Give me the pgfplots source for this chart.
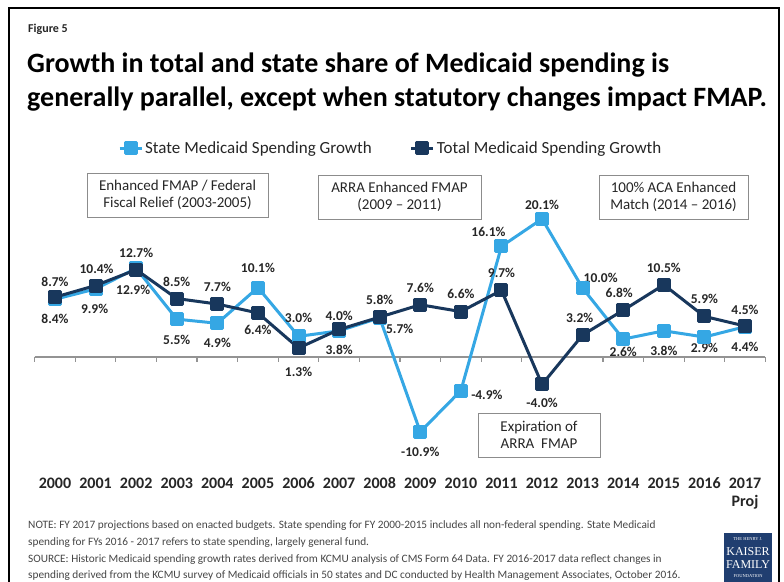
\documentclass[border=0pt]{standalone}
\usepackage{fontspec}
\setmainfont{Carlito}
\newfontfamily\logofont{Liberation Serif}
\usepackage{pgfplots}
\pgfplotsset{compat=1.18}
\definecolor{lightb}{RGB}{53,167,228}
\definecolor{darkb}{RGB}{24,55,92}
\definecolor{txt}{RGB}{38,38,38}
\definecolor{foot}{RGB}{70,70,70}
\definecolor{boxgray}{RGB}{140,140,140}
\definecolor{kff}{RGB}{32,62,112}
\tikzset{lab/.style={font=\fontsize{13.5}{16}\selectfont\bfseries, text=txt, inner sep=0, anchor=center}}

\begin{document}
\begin{tikzpicture}
\path[use as bounding box] (0,0) rectangle (784pt,581pt);
\fill[white] (0,0) rectangle (784pt,581pt);
\begin{scope}[x=1pt,y=-1pt,yshift=581pt]
% frame
\draw[line width=2.5pt] (9,583) -- (9,8) -- (779,8) -- (779,583);
% title
\node[anchor=base west, inner sep=0, text=txt, font=\fontsize{12}{14}\selectfont\bfseries] at (28,33) {Figure 5};
\node[anchor=base west, inner sep=0, text=black, font=\fontsize{28}{32}\selectfont\bfseries] at (27,73) {Growth in total and state share of Medicaid spending is};
\node[anchor=base west, inner sep=0, text=black, font=\fontsize{28}{32}\selectfont\bfseries] at (27,107) {generally parallel, except when statutory changes impact FMAP.};
% zero line and ticks
\draw[gray!85, line width=1.5pt] (34.7,357) -- (765.3,357);
\foreach \i in {0,...,18} \draw[gray!85, line width=1.2pt] ({34.7+\i*40.588},357) -- ++(0,5);
% annotation boxes
\draw[boxgray, line width=0.8pt] (87,173) rectangle (268,217);
\node[align=center, text=txt, font=\fontsize{15}{17.5}\selectfont] at (177.5,195) {Enhanced FMAP / Federal\\Fiscal Relief (2003-2005)};
\draw[boxgray, line width=0.8pt] (318,175) rectangle (481,219);
\node[align=center, text=txt, font=\fontsize{15}{17.5}\selectfont] at (399.5,197) {ARRA Enhanced FMAP\\(2009 -- 2011)};
\draw[boxgray, line width=0.8pt] (599,175) rectangle (748,219);
\node[align=center, text=txt, font=\fontsize{15}{17.5}\selectfont] at (673.5,197) {100\% ACA Enhanced\\Match (2014 -- 2016)};
\draw[boxgray, line width=0.8pt] (478,413) rectangle (600,457);
\node[align=center, text=txt, font=\fontsize{15}{17.5}\selectfont] at (539,435) {Expiration of\\ARRA\ \ FMAP};
% footnote
\begin{scope}[every node/.style={anchor=base west, inner sep=0, text=foot, font=\fontsize{11.3}{13}\selectfont}]
\node at (28,528) {NOTE: FY 2017 projections based on enacted budgets. State spending for FY 2000-2015 includes all non-federal spending. State Medicaid};
\node at (28,545) {spending for FYs 2016 - 2017 refers to state spending, largely general fund.};
\node at (28,562) {SOURCE: Historic Medicaid spending growth rates derived from KCMU analysis of CMS Form 64 Data. FY 2016-2017 data reflect changes in};
\node at (28,578) {spending derived from the KCMU survey of Medicaid officials in 50 states and DC conducted by Health Management Associates, October 2016.};
\end{scope}
% logo
\fill[kff] (724,533) rectangle (772,583);
\node[text=white, font=\logofont\fontsize{4.5}{5}\selectfont, inner sep=0] at (748,539) {THE HENRY J.};
\node[text=white, font=\logofont\fontsize{12}{12}\selectfont, inner sep=0] at (748,551.5) {KAISER};
\node[text=white, font=\logofont\fontsize{12}{12}\selectfont, inner sep=0] at (748,564.5) {FAMILY};
\node[text=white, font=\logofont\fontsize{4.5}{5}\selectfont, inner sep=0] at (748,576.5) {FOUNDATION};
\end{scope}

\begin{axis}[
  at={(34.7pt,121pt)}, anchor=south west, scale only axis,
  width=730.6pt, height=274.8pt,
  xmin=-0.5, xmax=17.5, ymin=-15, ymax=25,
  axis line style={draw=none}, ytick=\empty,
  xtick={0,1,2,3,4,5,6,7,8,9,10,11,12,13,14,15,16,17},
  xticklabels={2000,2001,2002,2003,2004,2005,2006,2007,2008,2009,2010,2011,2012,2013,2014,2015,2016,{\begin{tabular}[t]{@{}c@{}}2017\\Proj\end{tabular}}},
  major tick length=0,
  xticklabel style={font=\fontsize{16}{18}\selectfont\bfseries, text=txt, anchor=north, text height=12pt, text depth=0pt, yshift=-12.5pt},
  clip=false,
  legend columns=2,
  legend cell align=left,
  legend style={at={(axis description cs:0.114,1.135)}, anchor=west, draw=none, fill=none,
    font=\fontsize{17}{20}\selectfont, text=txt, inner sep=0pt,
    /tikz/column 2/.style={column sep=36pt}},
  legend image code/.code={\draw[mark repeat=2,mark phase=2,#1] plot coordinates {(0pt,0pt) (11pt,0pt) (22pt,0pt)};},
]
\addplot[lightb, line width=3pt, line join=round, mark=square*, mark size=5.5pt, mark options={solid, fill=lightb}] coordinates {
(0,8.4) (1,9.9) (2,12.9) (3,5.5) (4,4.9) (5,10.1) (6,3.0) (7,3.8) (8,5.7) (9,-10.9) (10,-4.9) (11,16.1) (12,20.1) (13,10.0) (14,2.6) (15,3.8) (16,2.9) (17,4.4)};
\addlegendentry{State Medicaid Spending Growth}
\addplot[darkb, line width=3pt, line join=round, mark=square*, mark size=5.5pt, mark options={solid, fill=darkb}] coordinates {
(0,8.7) (1,10.4) (2,12.7) (3,8.5) (4,7.7) (5,6.4) (6,1.3) (7,4.0) (8,5.8) (9,7.6) (10,6.6) (11,9.7) (12,-4.0) (13,3.2) (14,6.8) (15,10.5) (16,5.9) (17,4.5)};
\addlegendentry{Total Medicaid Spending Growth}
% total labels
\node[lab, yshift=15pt] at (axis cs:0,8.7) {8.7\%};
\node[lab, xshift=1pt, yshift=16.6pt] at (axis cs:1,10.4) {10.4\%};
\node[lab, yshift=17pt] at (axis cs:2,12.7) {12.7\%};
\node[lab, yshift=16.6pt] at (axis cs:3,8.5) {8.5\%};
\node[lab, yshift=17pt] at (axis cs:4,7.7) {7.7\%};
\node[lab, yshift=-17pt] at (axis cs:5,6.4) {6.4\%};
\node[lab, yshift=-24pt] at (axis cs:6,1.3) {1.3\%};
\node[lab, yshift=13.5pt] at (axis cs:7,4.0) {4.0\%};
\node[lab, yshift=17pt] at (axis cs:8,5.8) {5.8\%};
\node[lab, yshift=17pt] at (axis cs:9,7.6) {7.6\%};
\node[lab, yshift=17.7pt] at (axis cs:10,6.6) {6.6\%};
\node[lab, yshift=17pt] at (axis cs:11,9.7) {9.7\%};
\node[lab, yshift=-18.5pt] at (axis cs:12,-4.0) {-4.0\%};
\node[lab, xshift=-3pt, yshift=17pt] at (axis cs:13,3.2) {3.2\%};
\node[lab, xshift=-4pt, yshift=17pt] at (axis cs:14,6.8) {6.8\%};
\node[lab, yshift=17pt] at (axis cs:15,10.5) {10.5\%};
\node[lab, yshift=18pt] at (axis cs:16,5.9) {5.9\%};
\node[lab, yshift=16pt] at (axis cs:17,4.5) {4.5\%};
% state labels
\node[lab, yshift=-20pt] at (axis cs:0,8.4) {8.4\%};
\node[lab, xshift=-1pt, yshift=-20pt] at (axis cs:1,9.9) {9.9\%};
\node[lab, xshift=-3pt, yshift=-21.6pt] at (axis cs:2,12.9) {12.9\%};
\node[lab, yshift=-21pt] at (axis cs:3,5.5) {5.5\%};
\node[lab, yshift=-20pt] at (axis cs:4,4.9) {4.9\%};
\node[lab, yshift=19.6pt] at (axis cs:5,10.1) {10.1\%};
\node[lab, yshift=18pt] at (axis cs:6,3.0) {3.0\%};
\node[lab, yshift=-19pt] at (axis cs:7,3.8) {3.8\%};
\node[lab, xshift=20pt, yshift=-11pt] at (axis cs:8,5.7) {5.7\%};
\node[lab, yshift=-20pt] at (axis cs:9,-10.9) {-10.9\%};
\node[lab, xshift=26pt, yshift=-4pt] at (axis cs:10,-4.9) {-4.9\%};
\node[lab, xshift=-13pt, yshift=14pt] at (axis cs:11,16.1) {16.1\%};
\node[lab, yshift=14pt] at (axis cs:12,20.1) {20.1\%};
\node[lab, xshift=18pt, yshift=10pt] at (axis cs:13,10.0) {10.0\%};
\node[lab, yshift=-13pt] at (axis cs:14,2.6) {2.6\%};
\node[lab, yshift=-20pt] at (axis cs:15,3.8) {3.8\%};
\node[lab, yshift=-11pt] at (axis cs:16,2.9) {2.9\%};
\node[lab, yshift=-20pt] at (axis cs:17,4.4) {4.4\%};
\end{axis}
\end{tikzpicture}
\end{document}
